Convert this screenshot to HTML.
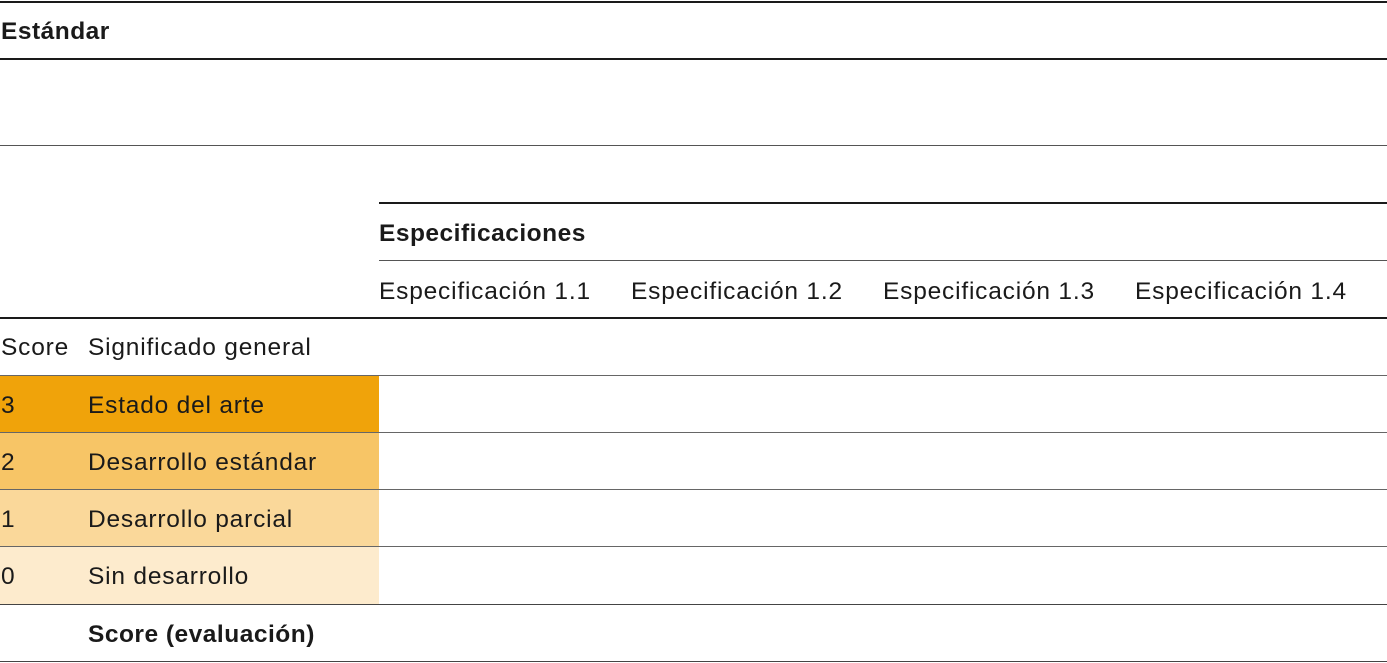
<!DOCTYPE html>
<html><head><meta charset="utf-8"><style>
body{margin:0;width:1387px;height:663px;background:#fff;position:relative;overflow:hidden;font-family:"Liberation Sans",sans-serif;color:#1a1a1a;font-size:24.5px;letter-spacing:0.8px}
.l{position:absolute;background:#1a1a1a}
.t{position:absolute;line-height:30px;white-space:nowrap}
.b{font-weight:bold;letter-spacing:0.5px}
.bg{position:absolute;left:0;width:379px}
</style></head><body>
<div class="bg" style="top:375px;height:57px;background:#F0A30A"></div>
<div class="bg" style="top:432px;height:57px;background:#F7C566"></div>
<div class="bg" style="top:489px;height:57px;background:#FAD89A"></div>
<div class="bg" style="top:546px;height:58px;background:#FDEBCD"></div>

<div class="l" style="left:0;width:1387px;top:1px;height:2px"></div>
<div class="l" style="left:0;width:1387px;top:58px;height:2px"></div>
<div class="l" style="left:0;width:1387px;top:145px;height:1px;background:#555"></div>
<div class="l" style="left:379px;width:1008px;top:202px;height:2px"></div>
<div class="l" style="left:379px;width:1008px;top:260px;height:1px;background:#555"></div>
<div class="l" style="left:0;width:1387px;top:317px;height:2px"></div>
<div class="l" style="left:0;width:1387px;top:375px;height:1px;background:#666"></div>
<div class="l" style="left:0;width:1387px;top:432px;height:1px;background:#666"></div>
<div class="l" style="left:0;width:1387px;top:489px;height:1px;background:#666"></div>
<div class="l" style="left:0;width:1387px;top:546px;height:1px;background:#666"></div>
<div class="l" style="left:0;width:1387px;top:604px;height:1px;background:#444"></div>
<div class="l" style="left:0;width:1387px;top:661px;height:1px;background:#444"></div>

<div class="t b" style="left:1px;top:17px">Estándar</div>
<div class="t b" style="left:379px;top:219px">Especificaciones</div>
<div class="t" style="left:379px;top:277px">Especificación 1.1</div>
<div class="t" style="left:631px;top:277px">Especificación 1.2</div>
<div class="t" style="left:883px;top:277px">Especificación 1.3</div>
<div class="t" style="left:1135px;top:277px">Especificación 1.4</div>
<div class="t" style="left:1px;top:333px">Score</div>
<div class="t" style="left:88px;top:333px">Significado general</div>
<div class="t" style="left:1px;top:391px">3</div>
<div class="t" style="left:88px;top:391px">Estado del arte</div>
<div class="t" style="left:1px;top:448px">2</div>
<div class="t" style="left:88px;top:448px">Desarrollo estándar</div>
<div class="t" style="left:1px;top:505px">1</div>
<div class="t" style="left:88px;top:505px">Desarrollo parcial</div>
<div class="t" style="left:1px;top:562px">0</div>
<div class="t" style="left:88px;top:562px">Sin desarrollo</div>
<div class="t b" style="left:88px;top:620px">Score (evaluación)</div>
</body></html>
